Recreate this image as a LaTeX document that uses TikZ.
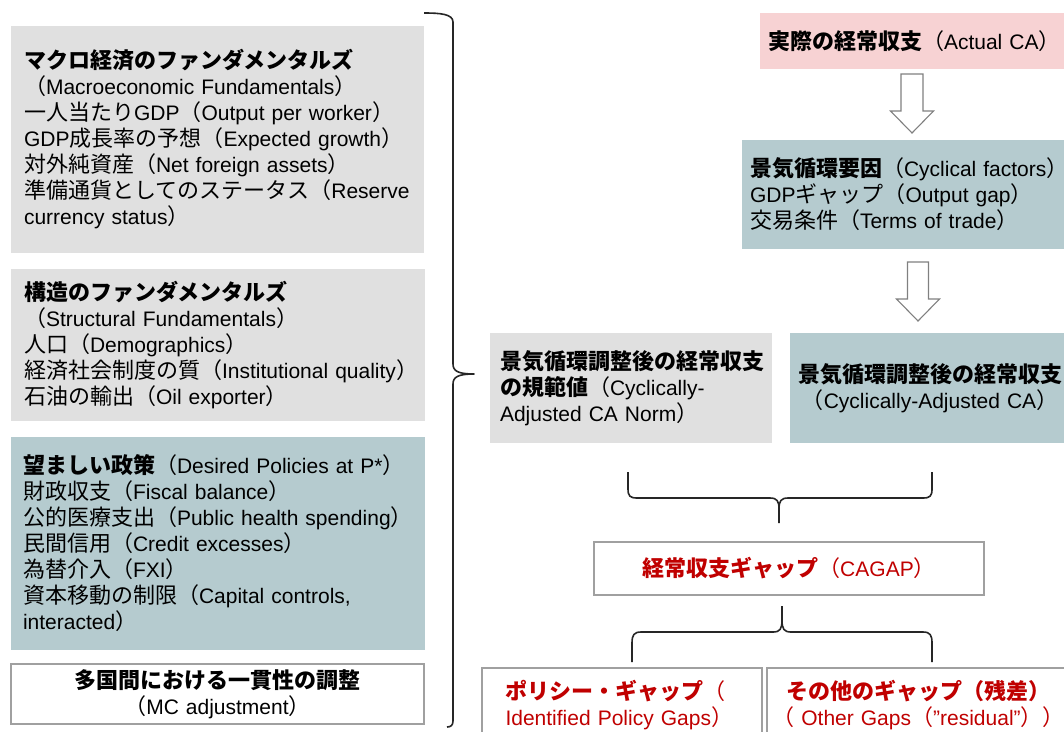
\documentclass[tikz,border=0pt]{standalone}
\usepackage{fontspec}
\setmainfont{Liberation Sans}[Scale=0.955]
\newfontfamily\jp{Noto Sans CJK JP}
\newcommand\J[1]{{\jp #1}}
\newcommand\JB[1]{{\jp\bfseries #1}}
\newcommand\Ln[1]{\mbox{#1}}
\hfuzz=500pt
\hbadness=10000
\definecolor{boxgray}{RGB}{224,224,224}
\definecolor{boxteal}{RGB}{181,203,207}
\definecolor{boxpink}{RGB}{247,210,211}
\definecolor{gapred}{RGB}{192,0,0}
\definecolor{edgegray}{RGB}{160,160,160}
\definecolor{arrgray}{RGB}{128,128,128}
\begin{document}
\begin{tikzpicture}[x=1pt,y=-1pt,
  base/.style={rectangle, inner ysep=0pt, font=\fontsize{22}{26}\selectfont, anchor=center},
  fillbox/.style={base, fill=#1, draw=none},
  linebox/.style={base, fill=white, draw=edgegray, line width=1.5pt},
  bracepath/.style={draw=black!85, line width=1.6pt, line join=round},
  hollowarrow/.style={draw=arrgray, fill=white, line width=1.1pt, line join=miter}]
\useasboundingbox (0,0) rectangle (1064,731);
\fill[white] (0,0) rectangle (1064,731);
\clip (0,0) rectangle (1064,731);

% left column
\node[fillbox=boxgray, text width=387pt, inner xsep=13pt, minimum height=227pt, align=left] (macro) at (217.5,139.5) {%
\Ln{\JB{マクロ経済のファンダメンタルズ}}\\
\Ln{\J{（}Macroeconomic Fundamentals\J{）}}\\
\Ln{\J{一人当たり}GDP\J{（}Output per worker\J{）}}\\
\Ln{GDP\J{成長率の予想（}Expected growth\J{）}}\\
\Ln{\J{対外純資産（}Net foreign assets\J{）}}\\
\Ln{\J{準備通貨としてのステータス（}Reserve}\\
\Ln{currency status\J{）}}};

\node[fillbox=boxgray, text width=388pt, inner xsep=13pt, minimum height=152pt, align=left] (struct) at (218,345) {%
\Ln{\JB{構造のファンダメンタルズ}}\\
\Ln{\J{（}Structural Fundamentals\J{）}}\\
\Ln{\J{人口（}Demographics\J{）}}\\
\Ln{\J{経済社会制度の質（}Institutional quality\J{）}}\\
\Ln{\J{石油の輸出（}Oil exporter\J{）}}};

\node[fillbox=boxteal, text width=390pt, inner xsep=12pt, minimum height=213pt, align=left] (desired) at (218,543.5) {%
\Ln{\JB{望ましい政策}\J{（}Desired Policies at P*\J{）}}\\
\Ln{\J{財政収支（}Fiscal balance\J{）}}\\
\Ln{\J{公的医療支出（}Public health spending\J{）}}\\
\Ln{\J{民間信用（}Credit excesses\J{）}}\\
\Ln{\J{為替介入（}FXI\J{）}}\\
\Ln{\J{資本移動の制限（}Capital controls,}\\
\Ln{interacted\J{）}}};

\node[linebox, text width=393pt, inner xsep=10pt, minimum height=60pt, align=center] (mc) at (217.5,694) {%
\Ln{\JB{多国間における一貫性の調整}}\\
\Ln{\J{（}MC adjustment\J{）}}};

% right column
\node[fillbox=boxpink, text width=294pt, inner xsep=8pt, minimum height=56pt, align=left] (actual) at (915,41) {%
\Ln{\JB{実際の経常収支}\J{（}Actual CA\J{）}}};

\node[fillbox=boxteal, text width=312pt, inner xsep=8pt, minimum height=109pt, align=left] (cyc) at (906,194.5) {%
\Ln{\JB{景気循環要因}\J{（}Cyclical factors\J{）}}\\
\Ln{GDP\J{ギャップ（}Output gap\J{）}}\\
\Ln{\J{交易条件（}Terms of trade\J{）}}};

\node[fillbox=boxgray, text width=262pt, inner xsep=10pt, minimum height=110pt, align=left] (norm) at (631,388) {%
\Ln{\JB{景気循環調整後の経常収支}}\\
\Ln{\JB{の規範値}\J{（}Cyclically-}\\
\Ln{Adjusted CA Norm\J{）}}};

\node[fillbox=boxteal, text width=270pt, inner xsep=5pt, minimum height=110pt, align=center] (adj) at (930,388) {%
\Ln{\JB{景気循環調整後の経常収支}}\\
\Ln{\J{（}Cyclically-Adjusted CA\J{）}}};

\node[linebox, text width=380pt, inner xsep=5pt, minimum height=53pt, align=center, text=gapred] (cagap) at (789,568.5) {%
\Ln{\JB{経常収支ギャップ}\J{（}CAGAP\J{）}}};

\node[linebox, text width=257pt, inner xsep=11.5pt, minimum height=74pt, align=left, text=gapred] (policy) at (622,705) {%
\Ln{\hspace*{12pt}\JB{ポリシー・ギャップ}\J{（}}\\
\Ln{\hspace*{12pt}Identified Policy Gaps\J{）}}};

\node[linebox, text width=293pt, inner xsep=5pt, minimum height=74pt, align=center, text=gapred] (other) at (918.5,705) {%
\Ln{\JB{その他のギャップ（残差）}}\\
\Ln{\J{（} Other Gaps\J{（}”residual”\J{））}}};

% hollow arrows
\coordinate (ar1) at (912,74);
\coordinate (ar2) at (918,262);
\draw[hollowarrow, shift={(ar1)}] (-11,0) -- (11,0) -- (11,37) -- (21.5,37) -- (0,59) -- (-21.5,37) -- (-11,37) -- cycle;
\draw[hollowarrow, shift={(ar2)}] (-10.5,0) -- (10.5,0) -- (10.5,37) -- (21.5,37) -- (0,59) -- (-21.5,37) -- (-10.5,37) -- cycle;

% big brace
\coordinate (bbtop) at (424,13);
\coordinate (bbtip) at (474,374);
\coordinate (bbbot) at (447,727);
\draw[bracepath] (bbtop) .. controls (440,13) and (453,14) .. (453,22) -- (453,364)
  .. controls (453,371) and (458,374) .. (bbtip)
  .. controls (458,374) and (453,377) .. (453,384) -- (453,721)
  .. controls (453,725) and (451,727) .. (bbbot);

% brace under the two CA boxes
\coordinate (b1l) at (628,472);
\coordinate (b1r) at (932,472);
\coordinate (b1tip) at (779,523);
\draw[bracepath] (b1l) -- (628,489) .. controls (628,496) and (630,498) .. (637,498) -- (770,498)
  .. controls (777,498) and (779,501) .. (779,509) -- (b1tip);
\draw[bracepath] (b1r) -- (932,489) .. controls (932,496) and (930,498) .. (923,498) -- (788,498)
  .. controls (781,498) and (779,501) .. (779,509);

% brace under CA GAP
\coordinate (b2tip) at (782,606);
\coordinate (b2l) at (632,662);
\coordinate (b2r) at (932,662);
\draw[bracepath] (b2tip) -- (782,620) .. controls (782,629) and (780,632) .. (773,632) -- (641,632)
  .. controls (634,632) and (632,635) .. (632,643) -- (b2l);
\draw[bracepath] (782,620) .. controls (782,629) and (784,632) .. (791,632) -- (923,632)
  .. controls (930,632) and (932,635) .. (932,643) -- (b2r);
\end{tikzpicture}
\end{document}
